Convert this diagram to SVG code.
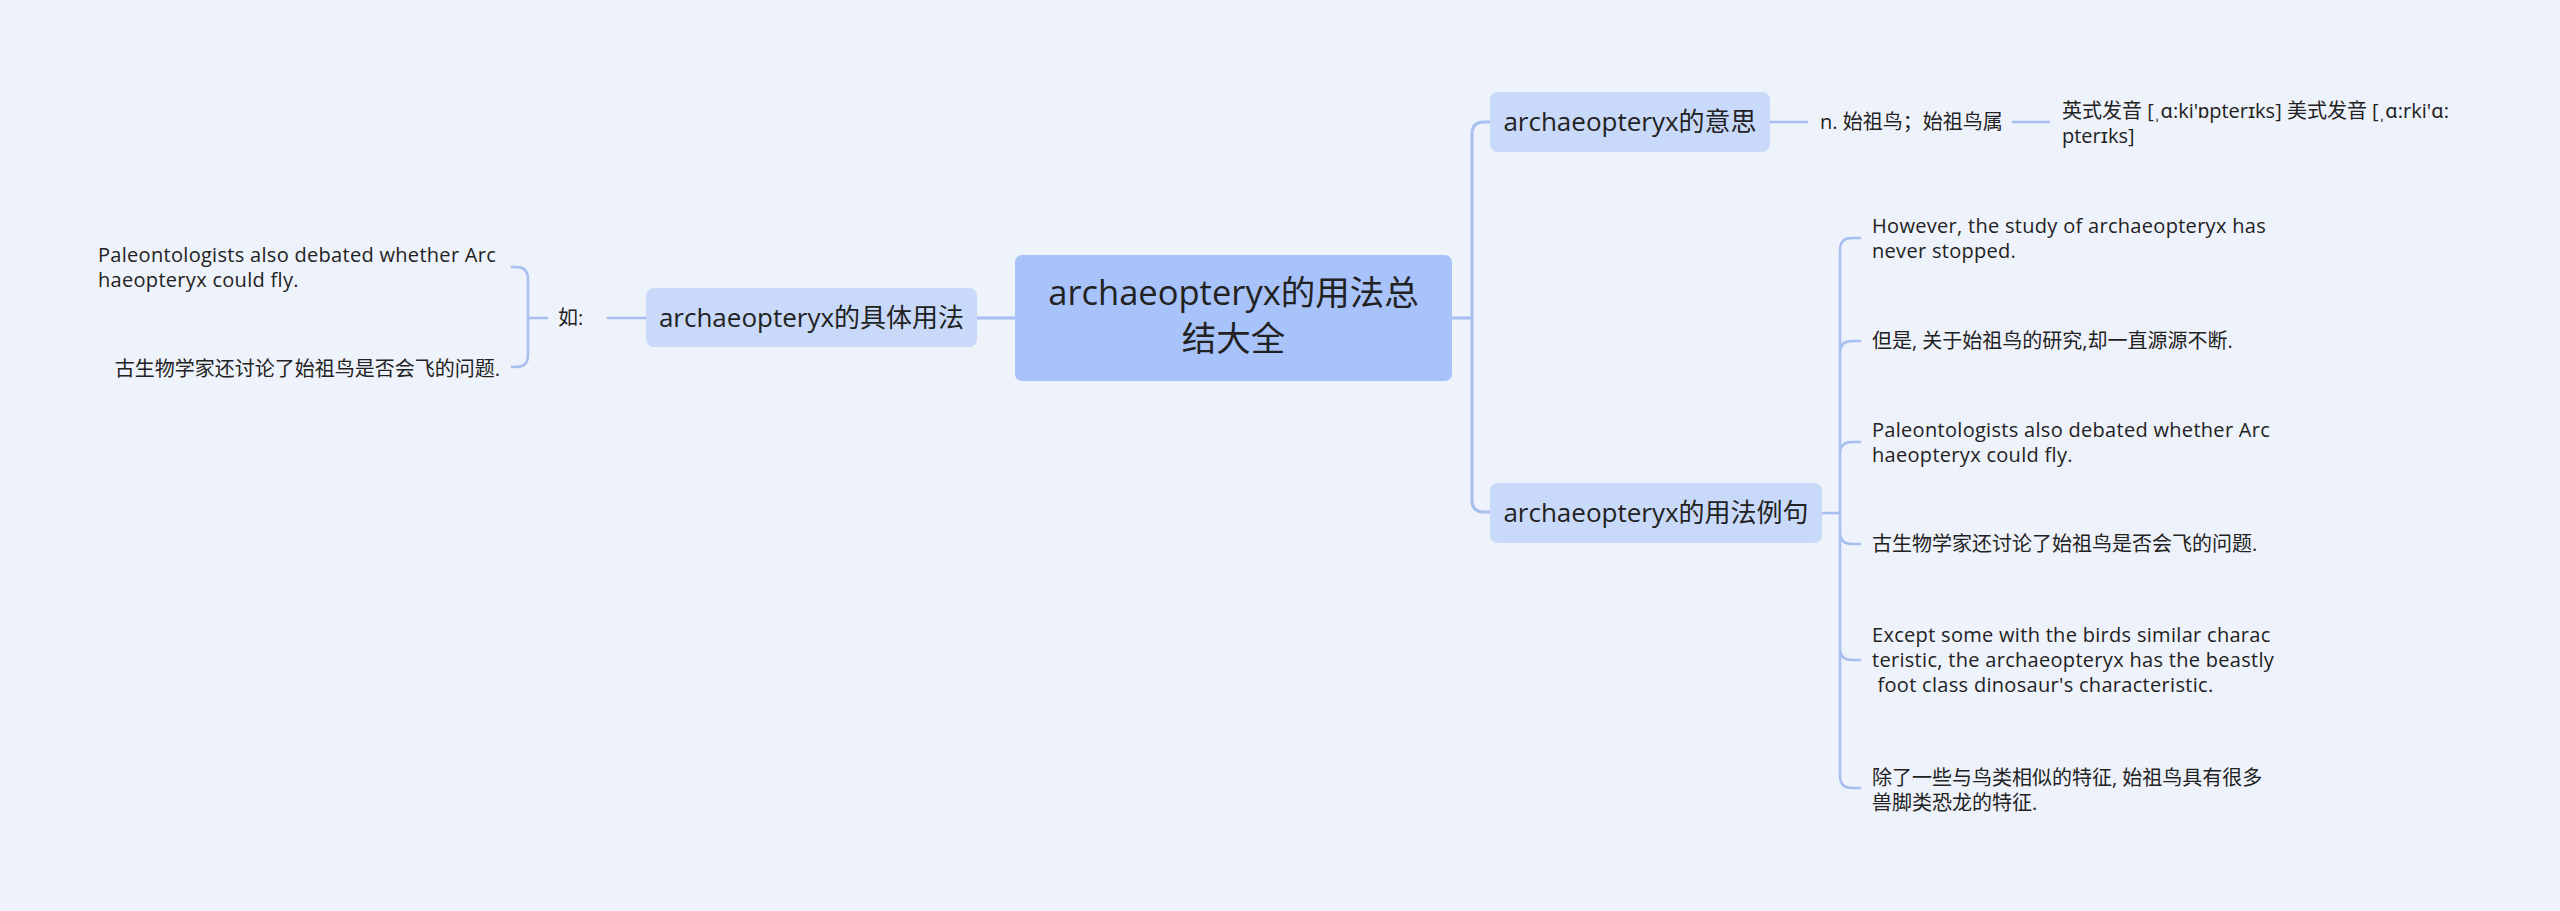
<svg xmlns="http://www.w3.org/2000/svg" width="2560" height="911" viewBox="0 0 2560 911">
<style>
text{font-family:"Open Sans","Noto Sans CJK SC",sans-serif;fill:#222;white-space:pre}
.c{font-size:34.5px;text-anchor:middle}
.n{font-size:26px;text-anchor:middle}
.t{font-size:20px}
.en{letter-spacing:0.3px}
.e{text-anchor:end}
.ln{fill:none;stroke:#a6bef0;stroke-width:3;stroke-linecap:round}
.ln2{fill:none;stroke:#a6bef0;stroke-width:2.5;stroke-linecap:round}
</style>
<rect width="2560" height="911" fill="#eef2fb"/>
<g id="connectors">
<path class="ln" d="M1452,318 H1472 M1490,122 H1484 Q1472,122 1472,134 V500 Q1472,512 1484,512 H1490"/>
<path class="ln" d="M977,318 H1015"/>
<path class="ln2" d="M608,318 H646"/>
<path class="ln2" d="M547,318 H528 M512,267 H516 Q528,267 528,279 V355 Q528,367 516,367 H512"/>
<path class="ln2" d="M1770,122 H1807"/>
<path class="ln2" d="M2013,122 H2049"/>
<path class="ln2" d="M1822,513 H1840 M1860,238 H1852 Q1840,238 1840,250 V776 Q1840,788 1852,788 H1860 M1860,341 H1852 Q1840,341 1840,353 M1860,442 H1852 Q1840,442 1840,454 M1860,544 H1852 Q1840,544 1840,532 M1860,660 H1852 Q1840,660 1840,648"/>
</g>
<g id="central">
<rect x="1015" y="255" width="437" height="126" rx="7" fill="#a8c2fa"/>
<text class="c" x="1233.5" y="305">archaeopteryx的用法总</text>
<text class="c" x="1233.5" y="351">结大全</text>
</g>
<g id="usage">
<rect x="646" y="288" width="331" height="59" rx="8" fill="#c9d9f9"/>
<text class="n" x="811.5" y="327">archaeopteryx的具体用法</text>
</g>
<g id="ru">
<text class="t" x="558" y="325">如:</text>
</g>
<g id="left-en">
<text class="t en" x="98" y="262">Paleontologists also debated whether Arc</text>
<text class="t en" x="98" y="287">haeopteryx could fly.</text>
</g>
<g id="left-zh">
<text class="t e" x="500" y="376">古生物学家还讨论了始祖鸟是否会飞的问题.</text>
</g>
<g id="meaning">
<rect x="1490" y="92" width="280" height="60" rx="8" fill="#c9d9f9"/>
<text class="n" x="1630" y="131">archaeopteryx的意思</text>
</g>
<g id="def">
<text class="t" x="1820" y="129">n. 始祖鸟；始祖鸟属</text>
</g>
<g id="pron">
<text class="t" x="2062" y="118">英式发音 [ˌɑ:ki'ɒpterɪks] 美式发音 [ˌɑ:rki'ɑ:</text>
<text class="t" x="2062" y="143">pterɪks]</text>
</g>
<g id="examples">
<rect x="1490" y="483" width="332" height="60" rx="8" fill="#c9d9f9"/>
<text class="n" x="1656" y="522">archaeopteryx的用法例句</text>
</g>
<g id="ex1">
<text class="t en" x="1872" y="233">However, the study of archaeopteryx has</text>
<text class="t en" x="1872" y="258">never stopped.</text>
</g>
<g id="ex2">
<text class="t" x="1872" y="348">但是, 关于始祖鸟的研究,却一直源源不断.</text>
</g>
<g id="ex3">
<text class="t en" x="1872" y="437">Paleontologists also debated whether Arc</text>
<text class="t en" x="1872" y="462">haeopteryx could fly.</text>
</g>
<g id="ex4">
<text class="t" x="1872" y="551">古生物学家还讨论了始祖鸟是否会飞的问题.</text>
</g>
<g id="ex5">
<text class="t en" x="1872" y="642">Except some with the birds similar charac</text>
<text class="t en" x="1872" y="667">teristic, the archaeopteryx has the beastly</text>
<text class="t en" x="1872" y="692"> foot class dinosaur's characteristic.</text>
</g>
<g id="ex6">
<text class="t" x="1872" y="785">除了一些与鸟类相似的特征, 始祖鸟具有很多</text>
<text class="t" x="1872" y="810">兽脚类恐龙的特征.</text>
</g>
</svg>
